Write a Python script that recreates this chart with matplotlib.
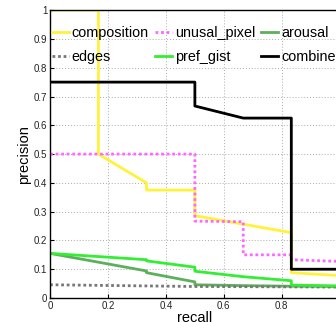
import matplotlib
matplotlib.use("Agg")
import matplotlib.pyplot as plt
from matplotlib.ticker import FuncFormatter

plt.rcParams['font.family'] = ['Liberation Sans', 'DejaVu Sans']

comp_r = [0, 0.167, 0.167, 0.333, 0.333, 0.5, 0.5, 0.833, 0.833, 1.0]
comp_p = [1.0, 1.0, 0.5, 0.4, 0.375, 0.375, 0.286, 0.227, 0.088, 0.078]

unus_r = [0, 0.5, 0.5, 0.667, 0.667, 0.833, 0.833, 1.0]
unus_p = [0.5, 0.5, 0.267, 0.265, 0.15, 0.15, 0.133, 0.127]

arou_r = [0, 0.333, 0.333, 0.5, 0.5, 0.667, 0.833, 1.0]
arou_p = [0.155, 0.094, 0.088, 0.056, 0.046, 0.043, 0.041, 0.040]

edge_r = [0, 0.5, 1.0]
edge_p = [0.046, 0.040, 0.038]

gist_r = [0, 0.333, 0.333, 0.5, 0.5, 0.667, 0.833, 0.833, 1.0]
gist_p = [0.155, 0.133, 0.129, 0.107, 0.093, 0.074, 0.060, 0.045, 0.042]

comb_r = [0, 0.5, 0.5, 0.667, 0.833, 0.833, 1.0]
comb_p = [0.75, 0.75, 0.667, 0.625, 0.625, 0.1, 0.1]

x_ticks = [0, 0.2, 0.4, 0.6, 0.8, 1.0]
x_ticklabels = ['0', '0.2', '0.4', '0.6', '0.8', '']

fig = plt.figure(figsize=(3.36, 3.22), dpi=100)
ax = fig.add_axes([0.149, 0.0745, 0.862, 0.894])

h_comp, = ax.plot(comp_r, comp_p, color='#fff23a', lw=2, label='composition')
h_unus, = ax.plot(unus_r, unus_p, color='#ff66ff', lw=2, ls=(0, (1, 1)), label='unusal_pixel')
h_arou, = ax.plot(arou_r, arou_p, color='#5cb05c', lw=2, label='arousal')
h_edge, = ax.plot(edge_r, edge_p, color='#777777', lw=2, ls=(0, (1, 1)), label='edges')
h_gist, = ax.plot(gist_r, gist_p, color='#33ee33', lw=2, label='pref_gist')
h_comb, = ax.plot(comb_r, comb_p, color='black', lw=2, label='combined')

ax.set_xlim(0, 1)
ax.set_ylim(0, 1)
ax.set_xticks(x_ticks)
ax.set_xticklabels(x_ticklabels)
ax.set_yticks([i / 10 for i in range(11)])
fmt = FuncFormatter(lambda v, p: f"{v:g}")
ax.yaxis.set_major_formatter(fmt)
ax.tick_params(direction='in', labelsize=7, length=3, top=False, right=False, pad=2,
               labelcolor='#222222')
ax.grid(True, color='#aaaaaa', ls=(0, (1, 2)), lw=0.7)
for s in ax.spines.values():
    s.set_linewidth(1)

ax.set_xlabel('recall', fontsize=10.5, labelpad=0)
ax.set_ylabel('precision', fontsize=10.5, labelpad=2)

# column-major ordering so rows read: composition, unusal_pixel, arousal / edges, pref_gist, combined
handles = [h_comp, h_edge, h_unus, h_gist, h_arou, h_comb]
labels = [h.get_label() for h in handles]
leg = ax.legend(handles, labels, ncol=3, loc='upper left',
                bbox_to_anchor=(2 / 290, 1 - 16 / 288),
                frameon=False, fontsize=10.4, handlelength=1.15, handletextpad=0.2,
                columnspacing=0.45, borderpad=0, borderaxespad=0, labelspacing=0.68)

fig.savefig('out.png', dpi=100)
